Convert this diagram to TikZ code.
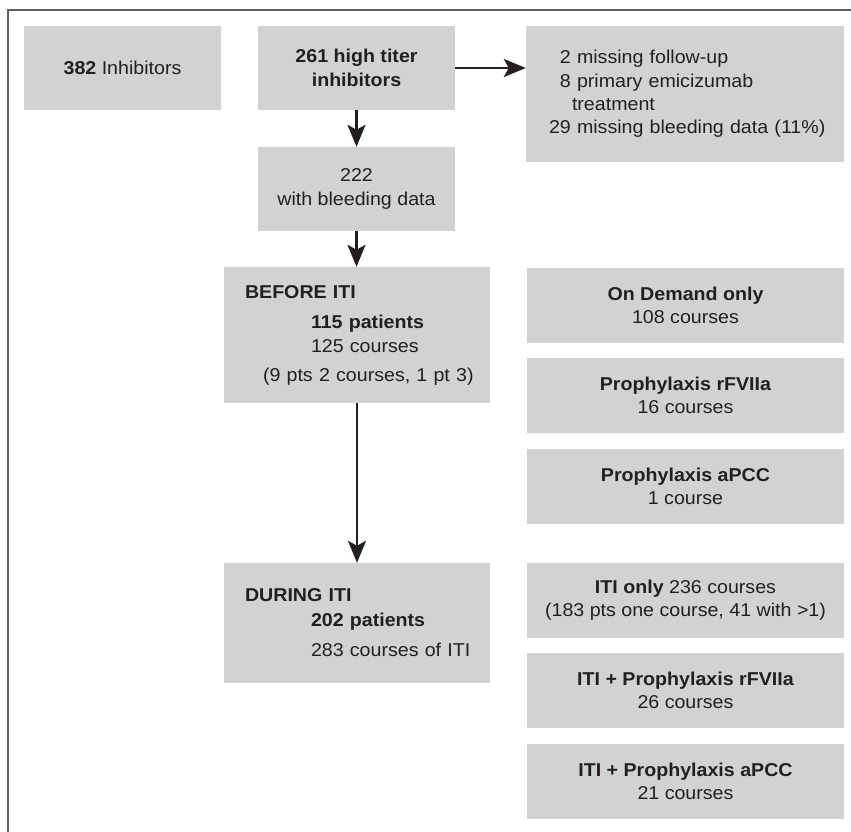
\documentclass[tikz,border=0pt]{standalone}
\usepackage{fontspec}
\setmainfont{Liberation Sans}[FakeStretch=1.055]
\usetikzlibrary{arrows.meta}
\definecolor{boxgray}{HTML}{D1D2D4}
\definecolor{ink}{HTML}{231F20}
\definecolor{framegray}{HTML}{5F5F5F}
\begin{document}
\begin{tikzpicture}[x=1pt,y=-1pt,
  box/.style={fill=boxgray, draw=none, inner sep=0pt, text=ink, font=\fontsize{18.6}{23.3}\selectfont},
  cbox/.style={box, align=center},
  lbox/.style={box, align=left},
  rbox/.style={cbox, minimum width=317pt, minimum height=75pt},
  conn/.style={draw=ink, line width=2.4pt, -{Stealth[length=22pt,width=18pt,inset=5pt]}}]
\useasboundingbox (0,0) rectangle (851,832);
\fill[white] (0,0) rectangle (851,832);
\draw[framegray, line width=2pt] (851,10) -- (7.7,10) -- (7.7,832);

\node[cbox, minimum width=197pt, minimum height=84pt] (inh) at (122.5,68) {\textbf{382} Inhibitors};
\node[cbox, minimum width=197pt, minimum height=84pt] (high) at (356.5,68) {\textbf{261 high titer}\\\textbf{inhibitors}};
\node[lbox, text width=272pt, inner xsep=23pt, minimum width=318pt, minimum height=136pt] (excl) at (685,94)
  {\hphantom{2}2 missing follow-up\\\hphantom{2}8 primary emicizumab\\\hspace*{23pt}treatment\\\mbox{29 missing bleeding data (11\%)}};
\node[cbox, minimum width=197pt, minimum height=84pt] (bleed) at (356.5,189) {222\\with bleeding data};
\node[lbox, text width=224pt, inner xsep=21pt, minimum width=266pt, minimum height=136pt] (before) at (357,335)
  {\textbf{BEFORE ITI}\\[6.7pt]\hspace*{66pt}\mbox{\textbf{115 patients}}\\[0.7pt]\hspace*{66pt}\mbox{125 courses}\\[5.7pt]\hspace*{18pt}\mbox{(9 pts 2 courses, 1 pt 3)}};
\node[lbox, text width=224pt, inner xsep=21pt, minimum width=266pt, minimum height=120pt] (during) at (357,623)
  {\textbf{DURING ITI}\\[1.7pt]\hspace*{66pt}\mbox{\textbf{202 patients}}\\[6.7pt]\hspace*{66pt}\mbox{283 courses of ITI}};

\node[rbox] (od) at (685.5,305.5) {\textbf{On Demand only}\\108 courses};
\node[rbox] (pr) at (685.5,395.5) {\textbf{Prophylaxis rFVIIa}\\16 courses};
\node[rbox] (pa) at (685.5,486.5) {\textbf{Prophylaxis aPCC}\\1 course};
\node[rbox] (io) at (685.5,600.5) {\textbf{ITI only} 236 courses\\(183 pts one course, 41 with >1)};
\node[rbox] (ir) at (685.5,690.5) {\textbf{ITI + Prophylaxis rFVIIa}\\26 courses};
\node[rbox] (ia) at (685.5,781.5) {\textbf{ITI + Prophylaxis aPCC}\\21 courses};

\draw[conn] (high.east) -- (high.east -| excl.west);
\draw[conn] (high.south) -- (bleed.north);
\draw[conn] (bleed.south) -- (bleed.south |- before.north);
\draw[conn] (before.south) -- (during.north);
\end{tikzpicture}
\end{document}
